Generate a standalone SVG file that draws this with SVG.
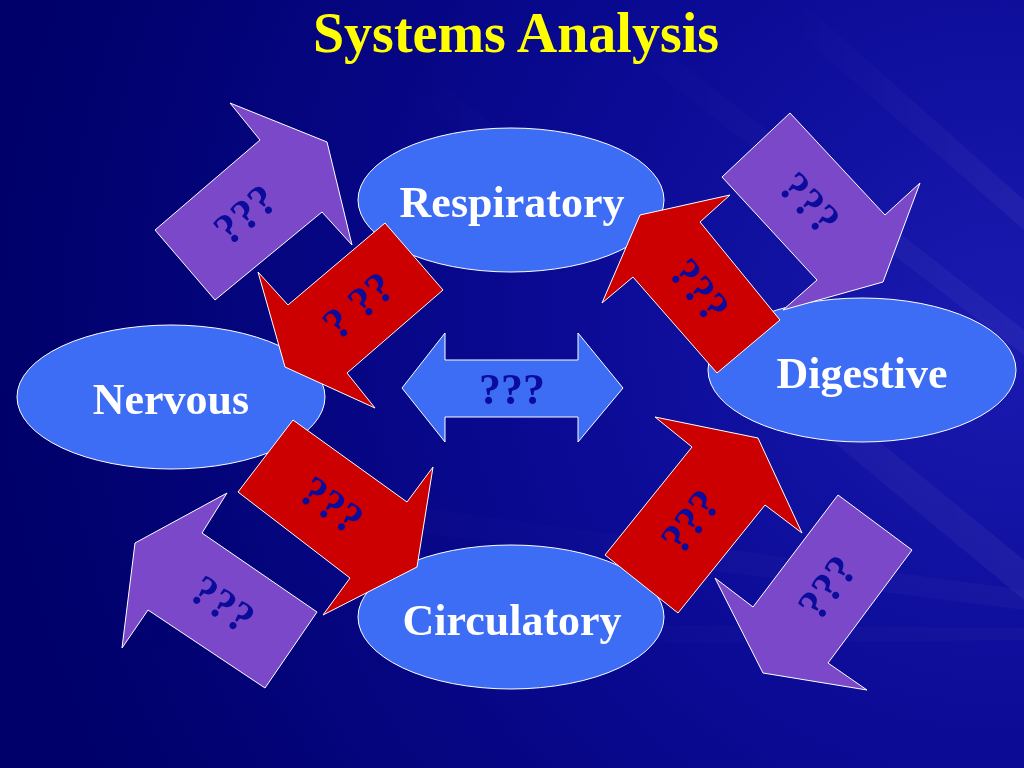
<svg xmlns="http://www.w3.org/2000/svg" width="1024" height="768" viewBox="0 0 1024 768">
<defs>
<radialGradient id="bg" cx="1000" cy="330" r="1000" gradientUnits="userSpaceOnUse">
<stop offset="0" stop-color="#1a1ab0"/>
<stop offset="0.45" stop-color="#0a0a94"/>
<stop offset="1" stop-color="#00006a"/>
</radialGradient>
<linearGradient id="streak" x1="0" y1="0" x2="1" y2="0">
<stop offset="0" stop-color="#ffffff" stop-opacity="0"/>
<stop offset="1" stop-color="#ffffff" stop-opacity="0.08"/>
</linearGradient>
</defs>
<style>
.node{fill:#3d6cf5;stroke:#ffffff;stroke-width:1}
.ntext{font-family:"Liberation Serif","Times New Roman",serif;font-weight:bold;font-size:44px;fill:#ffffff;text-anchor:middle}
.red{fill:#cc0000;stroke:#ffffff;stroke-width:1;stroke-linejoin:miter}
.purple{fill:#7a48c8;stroke:#ffffff;stroke-width:1;stroke-linejoin:miter}
.center{fill:#3d6cf5;stroke:#ffffff;stroke-width:1}
.q{font-family:"Liberation Serif","Times New Roman",serif;font-weight:bold;font-size:44px;fill:#0c0c9c;text-anchor:middle}
.title{font-family:"Liberation Serif","Times New Roman",serif;font-weight:bold;font-size:56px;fill:#ffff00;text-anchor:middle}
</style>
<rect x="0" y="0" width="1024" height="768" fill="url(#bg)"/>
<g id="background-streaks" opacity="0.6">
<polygon points="300,0 340,0 1024,560 1024,600" fill="url(#streak)"/>
<polygon points="560,0 600,0 1024,330 1024,355" fill="url(#streak)"/>
<polygon points="0,450 0,480 1024,610 1024,590" fill="url(#streak)" opacity="0.6"/>
<polygon points="760,0 800,0 1024,200 1024,230" fill="url(#streak)"/>
<polygon points="0,620 0,650 1024,640 1024,628" fill="url(#streak)" opacity="0.5"/>
</g>
<text class="title" x="516" y="52">Systems Analysis</text>
<g id="node-respiratory">
<ellipse class="node" cx="511" cy="200" rx="153" ry="72"/>
<text class="ntext" x="512" y="217">Respiratory</text>
</g>
<g id="node-nervous">
<ellipse class="node" cx="171" cy="397" rx="154" ry="72"/>
<text class="ntext" x="171" y="414">Nervous</text>
</g>
<g id="node-digestive">
<ellipse class="node" cx="862" cy="370" rx="154" ry="72"/>
<text class="ntext" x="862" y="388">Digestive</text>
</g>
<g id="node-circulatory">
<ellipse class="node" cx="511" cy="617" rx="153" ry="72"/>
<text class="ntext" x="512" y="635">Circulatory</text>
</g>
<g id="connectors">
<g id="arrow-center">
<polygon class="center" points="402,388 445,333 445,360 578,360 578,333 623,388 578,442 578,417 445,417 445,442"/>
<text class="q" x="512" y="404">???</text>
</g>
<g id="arrow-purple-tl">
<polygon class="purple" points="230,103 260,140 155,230 215,300 322,212 352,245 327,142"/>
<text class="q" transform="translate(245,214) rotate(-40)" y="15">???</text>
</g>
<g id="arrow-red-resp-nerv">
<polygon class="red" points="385,223 443,290 347,373 375,408 285,367 258,272 288,305"/>
<text class="q" transform="translate(358,305) rotate(-40)" y="15">? ??</text>
</g>
<g id="arrow-purple-tr">
<polygon class="purple" points="790,113 885,215 920,183 883,282 783,310 817,280 722,177"/>
<text class="q" transform="translate(810,203) rotate(47)" y="15">???</text>
</g>
<g id="arrow-red-dig-resp">
<polygon class="red" points="730,195 700,222 780,320 717,373 633,277 602,303 640,215"/>
<text class="q" transform="translate(700,290) rotate(51)" y="15">???</text>
</g>
<g id="arrow-red-nerv-circ">
<polygon class="red" points="293,420 407,502 433,467 417,567 323,615 350,578 238,492"/>
<text class="q" transform="translate(332,505) rotate(36)" y="15">???</text>
</g>
<g id="arrow-purple-bl">
<polygon class="purple" points="227,493 202,533 317,612 265,688 148,610 122,648 135,543"/>
<text class="q" transform="translate(223,604) rotate(35)" y="15">???</text>
</g>
<g id="arrow-red-circ-dig">
<polygon class="red" points="655,417 692,447 605,555 678,613 765,505 802,533 758,438"/>
<text class="q" transform="translate(690,521) rotate(-52)" y="15">???</text>
</g>
<g id="arrow-purple-br">
<polygon class="purple" points="838,495 912,550 828,663 867,690 763,673 715,578 753,607"/>
<text class="q" transform="translate(827,587) rotate(-53)" y="15">???</text>
</g>
</g>
</svg>
